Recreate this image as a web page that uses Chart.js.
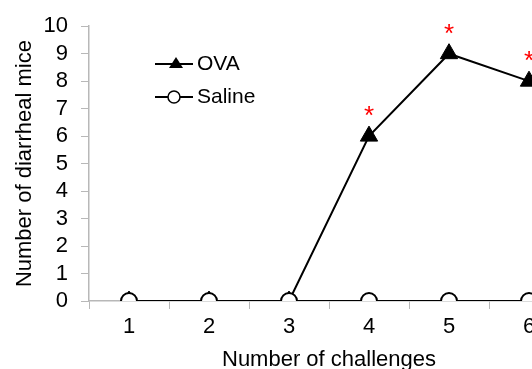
<!DOCTYPE html>
<html lang="en">
<head>
    <meta charset="UTF-8">
    <title>Number of diarrheal mice</title>
    <style>
        html, body { margin: 0; padding: 0; background: #fff; overflow: hidden; }
        #wrap { position: absolute; left: 0; top: 0; width: 590px; height: 369px; }
    </style>
</head>
<body>
    <div id="wrap">
        <canvas id="myChart" width="590" height="369"></canvas>
    </div>

    <script src="https://cdn.jsdelivr.net/npm/chart.js@4.4.0/dist/chart.umd.min.js"></script>
    <script>
        // data
        const challenges = ['1', '2', '3', '4', '5', '6'];
        const ova = [0, 0, 0, 6, 9, 8];
        const saline = [0, 0, 0, 0, 0, 0];
        const significant = ['', '', '', '*', '*', '*'];   // marks over OVA
        const yTicks = [0, 1, 2, 3, 4, 5, 6, 7, 8, 9, 10];

        const axisGray = '#b8b8b8';
        const fontFam = '"Liberation Sans", Arial, sans-serif';
        const fontSize = 22;

        // red asterisks above OVA points
        const starPlugin = {
            id: 'stars',
            afterDatasetsDraw(chart) {
                const meta = chart.getDatasetMeta(0);
                const ctx = chart.ctx;
                ctx.save();
                ctx.fillStyle = '#ff0000';
                ctx.font = '26px ' + fontFam;
                ctx.textAlign = 'center';
                ctx.textBaseline = 'middle';
                meta.data.forEach((pt, i) => {
                    if (significant[i]) ctx.fillText(significant[i], pt.x, pt.y - 19);
                });
                ctx.restore();
            }
        };

        // small legend inside the plot, line through marker
        const legendPlugin = {
            id: 'lineLegend',
            afterDraw(chart) {
                const ctx = chart.ctx;
                const items = [
                    { text: 'OVA', y: 64, shape: 'triangle' },
                    { text: 'Saline', y: 97, shape: 'circle' }
                ];
                ctx.save();
                items.forEach(it => {
                    ctx.strokeStyle = '#000';
                    ctx.lineWidth = 2;
                    ctx.beginPath();
                    ctx.moveTo(155, it.y);
                    ctx.lineTo(193, it.y);
                    ctx.stroke();
                    if (it.shape === 'triangle') {
                        ctx.fillStyle = '#000';
                        ctx.beginPath();
                        ctx.moveTo(176, it.y - 7);
                        ctx.lineTo(183, it.y + 4);
                        ctx.lineTo(169, it.y + 4);
                        ctx.closePath();
                        ctx.fill();
                    } else {
                        ctx.fillStyle = '#fff';
                        ctx.lineWidth = 1.5;
                        ctx.beginPath();
                        ctx.arc(174, it.y, 6, 0, Math.PI * 2);
                        ctx.fill();
                        ctx.stroke();
                    }
                    ctx.fillStyle = '#000';
                    ctx.font = '21px ' + fontFam;
                    ctx.textAlign = 'left';
                    ctx.textBaseline = 'middle';
                    ctx.fillText(it.text, 197, it.y);
                });
                ctx.restore();
            }
        };

        const ctx = document.getElementById('myChart').getContext('2d');
        const myChart = new Chart(ctx, {
            type: 'line',
            data: {
                labels: challenges,
                datasets: [{
                    label: 'OVA',
                    data: ova,
                    order: 2,
                    borderColor: '#000',
                    borderWidth: 2,
                    backgroundColor: '#000',
                    pointStyle: 'triangle',
                    pointRadius: 10,
                    pointBorderWidth: 1,
                    pointBackgroundColor: '#000',
                    pointBorderColor: '#000',
                    tension: 0
                }, {
                    label: 'Saline',
                    data: saline,
                    order: 1,
                    borderColor: '#000',
                    borderWidth: 2,
                    pointStyle: 'circle',
                    pointRadius: 8,
                    pointBorderWidth: 2,
                    pointBackgroundColor: '#fff',
                    pointBorderColor: '#000',
                    tension: 0
                }]
            },
            options: {
                responsive: false,
                animation: false,
                layout: { padding: { left: 0, top: 12, right: 21, bottom: 0 } },
                plugins: {
                    legend: { display: false },
                    tooltip: { enabled: false }
                },
                scales: {
                    x: {
                        offset: true,
                        grid: {
                            offset: true,
                            drawOnChartArea: false,
                            tickLength: 8,
                            color: axisGray
                        },
                        border: { color: axisGray, width: 1.5 },
                        ticks: {
                            color: '#000',
                            padding: 5,
                            font: { family: fontFam, size: fontSize }
                        },
                        title: {
                            display: true,
                            text: 'Number of challenges',
                            color: '#000',
                            padding: { top: 0, bottom: -4 },
                            font: { family: fontFam, size: fontSize }
                        },
                        afterFit(scale) { scale.height = 68; }
                    },
                    y: {
                        min: 0,
                        max: 10,
                        afterBuildTicks(scale) { scale.ticks = yTicks.map(v => ({ value: v })); },
                        grid: {
                            drawOnChartArea: false,
                            tickLength: 8,
                            color: axisGray
                        },
                        border: { color: axisGray, width: 1.5 },
                        ticks: {
                            autoSkip: false,
                            color: '#000',
                            padding: 13,
                            font: { family: fontFam, size: fontSize }
                        },
                        title: {
                            display: true,
                            text: 'Number of diarrheal mice',
                            color: '#000',
                            padding: { top: 12, bottom: 0 },
                            font: { family: fontFam, size: fontSize }
                        },
                        afterFit(scale) { scale.width = 89; }
                    }
                }
            },
            plugins: [starPlugin, legendPlugin]
        });
    </script>
</body>
</html>
